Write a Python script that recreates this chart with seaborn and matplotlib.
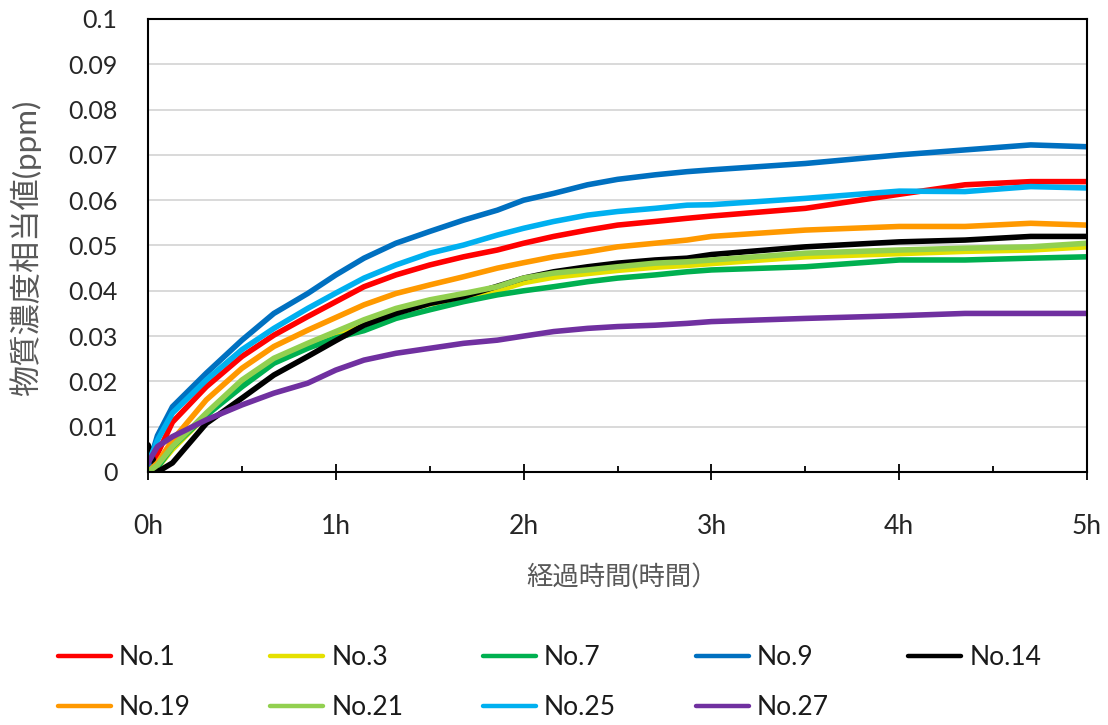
import matplotlib
matplotlib.use("Agg")
import matplotlib.pyplot as plt
from matplotlib.lines import Line2D
from matplotlib.ticker import FixedLocator, MultipleLocator
import pandas as pd
import seaborn as sns

# Elapsed time (hours) at which each curve is sampled
hours = [0, 0.05, 0.13, 0.31, 0.5, 0.67, 0.85, 1.0, 1.15, 1.32, 1.5, 1.68, 1.86,
         2.0, 2.16, 2.34, 2.5, 2.7, 2.87, 3.0, 3.5, 4.0, 4.35, 4.7, 5.0]

# Substance-concentration equivalent (ppm) for each sample
no1 = [0.0, 0.004, 0.011, 0.0188, 0.0255, 0.0302, 0.0343, 0.0376, 0.0409, 0.0435, 0.0457, 0.0475, 0.049,
       0.0505, 0.052, 0.0534, 0.0545, 0.0553, 0.056, 0.0565, 0.0582, 0.0613, 0.0634, 0.0641, 0.0641]
no3 = [0.0, 0.001, 0.005, 0.0125, 0.0195, 0.0243, 0.0276, 0.0302, 0.0328, 0.0352, 0.0371, 0.0386, 0.04,
       0.0418, 0.043, 0.0438, 0.0445, 0.0452, 0.0456, 0.046, 0.0475, 0.0482, 0.0487, 0.049, 0.0497]
no7 = [0.0, 0.001, 0.0055, 0.0125, 0.0188, 0.024, 0.0273, 0.0296, 0.0312, 0.0339, 0.0358, 0.0376, 0.0391,
       0.04, 0.0409, 0.042, 0.0428, 0.0435, 0.0442, 0.0446, 0.0453, 0.0468, 0.0468, 0.0472, 0.0475]
no9 = [0.001, 0.008, 0.0144, 0.0218, 0.0291, 0.035, 0.0394, 0.0435, 0.0472, 0.0505, 0.0531, 0.0556, 0.0578,
       0.06, 0.0615, 0.0634, 0.0646, 0.0656, 0.0663, 0.0667, 0.0681, 0.07, 0.0711, 0.0722, 0.0718]
no14 = [0.006, 0.0, 0.002, 0.0107, 0.0163, 0.0214, 0.0255, 0.029, 0.0324, 0.035, 0.0372, 0.0387, 0.041,
        0.0428, 0.0442, 0.0453, 0.0461, 0.0468, 0.0472, 0.048, 0.0497, 0.0508, 0.0512, 0.052, 0.052]
no19 = [0.0, 0.002, 0.007, 0.0159, 0.0229, 0.0277, 0.0313, 0.0341, 0.0369, 0.0394, 0.0413, 0.0431, 0.045,
        0.0462, 0.0475, 0.0486, 0.0497, 0.0505, 0.0512, 0.052, 0.0534, 0.0542, 0.0542, 0.0549, 0.0545]
no21 = [0.0, 0.0015, 0.0056, 0.013, 0.0203, 0.0251, 0.0284, 0.031, 0.0336, 0.0361, 0.038, 0.0394, 0.0409,
        0.0428, 0.0439, 0.0446, 0.0453, 0.0461, 0.0464, 0.0468, 0.0483, 0.049, 0.0494, 0.0497, 0.0505]
no25 = [0.002, 0.007, 0.013, 0.0203, 0.027, 0.0317, 0.0361, 0.0395, 0.0428, 0.0457, 0.0483, 0.0501, 0.0523,
        0.0538, 0.0553, 0.0567, 0.0575, 0.0582, 0.0589, 0.059, 0.0604, 0.062, 0.0619, 0.063, 0.0627]
no27 = [0.002, 0.0056, 0.0078, 0.0115, 0.0148, 0.0174, 0.0196, 0.0225, 0.0247, 0.0262, 0.0273, 0.0284, 0.0291,
        0.03, 0.031, 0.0317, 0.0321, 0.0324, 0.0328, 0.0332, 0.0339, 0.0345, 0.035, 0.035, 0.035]

series_names = ["No.1", "No.3", "No.7", "No.9", "No.14", "No.19", "No.21", "No.25", "No.27"]
series_values = [no1, no3, no7, no9, no14, no19, no21, no25, no27]
series_colors = ["#FF0000", "#E5E000", "#00B050", "#0070C0", "#000000",
                 "#FF9900", "#92D050", "#00B0F0", "#7030A0"]

y_ticks = [0, 0.01, 0.02, 0.03, 0.04, 0.05, 0.06, 0.07, 0.08, 0.09, 0.1]
y_tick_labels = ["0", "0.01", "0.02", "0.03", "0.04", "0.05", "0.06", "0.07", "0.08", "0.09", "0.1"]
x_ticks = [0, 1, 2, 3, 4, 5]
x_tick_labels = ["0h", "1h", "2h", "3h", "4h", "5h"]

y_title = "物質濃度相当値(ppm)"
x_title = "経過時間(時間）"

frames = [pd.DataFrame({"hours": hours, "value": vals, "series": name})
          for name, vals in zip(series_names, series_values)]
df = pd.concat(frames, ignore_index=True)

sns.set_theme(style="white")
plt.rcParams["font.family"] = ["Lato", "Noto Sans CJK JP", "DejaVu Sans"]

fig = plt.figure(figsize=(11.08, 7.25), dpi=100)
ax = fig.add_axes([0.1336, 0.349, 0.8475, 0.6248])

palette = dict(zip(series_names, series_colors))
sns.lineplot(data=df, x="hours", y="value", hue="series", hue_order=series_names,
             palette=palette, linewidth=4.0, legend=False, ax=ax, estimator=None, sort=False)

ax.set_xlim(0, 5)
ax.set_ylim(0, 0.1)

# horizontal gridlines only
ax.yaxis.set_major_locator(FixedLocator(y_ticks))
ax.set_yticklabels(y_tick_labels)
ax.yaxis.grid(True, color="#D9D9D9", linewidth=1.4)
ax.xaxis.grid(False)
ax.set_axisbelow(True)

ax.xaxis.set_major_locator(FixedLocator(x_ticks))
ax.set_xticklabels(x_tick_labels)
ax.xaxis.set_minor_locator(MultipleLocator(0.5))

ax.tick_params(axis="y", length=0, pad=22, labelsize=18, labelcolor="#262626")
ax.tick_params(axis="x", which="major", direction="inout", length=12, width=1.3,
               color="black", pad=24, labelsize=19, labelcolor="#262626", bottom=True)
ax.tick_params(axis="x", which="minor", direction="in", length=4.5, width=1.3,
               color="black", bottom=True)

for side in ["left", "right", "top", "bottom"]:
    ax.spines[side].set_visible(True)
    ax.spines[side].set_color("black")
    ax.spines[side].set_linewidth(1.5)

ax.set_ylabel(y_title, fontsize=22.5, color="#595959", va="center")
ax.yaxis.set_label_coords(-0.131, 0.494)
ax.set_xlabel(x_title, fontsize=19, color="#595959", va="center")
ax.xaxis.set_label_coords(0.505, -0.232)

# legend in row order across five columns
order = [0, 5, 1, 6, 2, 7, 3, 8, 4]
handles = [Line2D([0], [0], color=series_colors[i], linewidth=3.2, solid_capstyle="round")
           for i in order]
labels = [series_names[i] for i in order]
fig.legend(handles, labels, ncol=5, loc="upper left", bbox_to_anchor=(0.0523, 0.110),
           frameon=False, fontsize=19, handlelength=2.0, handletextpad=0.3,
           columnspacing=3.03, labelspacing=0.94, borderpad=0, borderaxespad=0,
           labelcolor="#1a1a1a")

fig.savefig("out.png", dpi=100, facecolor="white")
